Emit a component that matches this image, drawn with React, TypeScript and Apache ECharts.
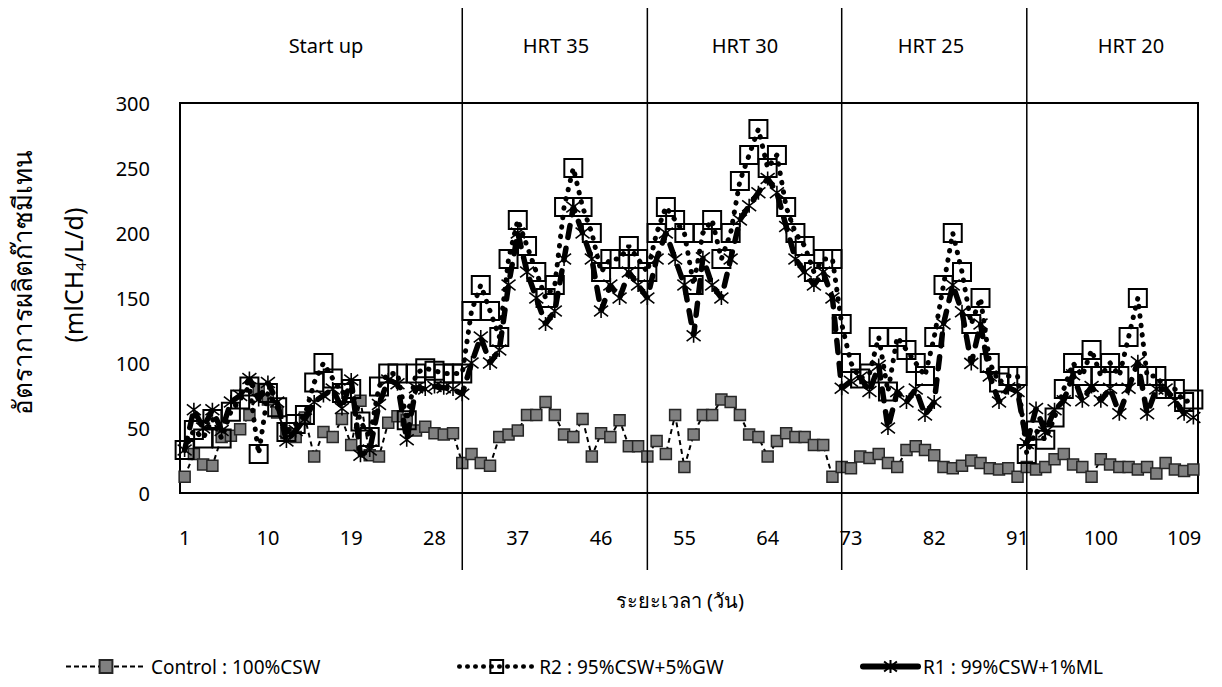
import React, { useEffect, useRef } from "react";
import * as echarts from "echarts";

const FONT = '"Noto Sans", "DejaVu Sans", Lato, sans-serif';

// day labels 1..110
const days: string[] = [];
for (let d = 1; d <= 110; d++) days.push(String(d));

const controlName = "Control : 100%CSW";
const r2Name = "R2 : 95%CSW+5%GW";
const r1Name = "R1 : 99%CSW+1%ML";

const control = [
  12.5, 30, 22, 21, 43, 44, 49, 60, 80, 72,
  62, 46, 43, 58, 28, 47, 43, 57, 37, 71,
  29, 28, 54, 59, 56, 48, 51, 46, 45, 46,
  23, 30, 23, 21, 43, 45, 48, 60, 60, 70,
  60, 45, 43, 57, 28, 46, 43, 56, 36, 36,
  28, 40, 30, 60, 20, 45, 60, 60, 72, 70,
  60, 45, 43, 28, 40, 46, 43, 43, 37, 37,
  12.5, 20, 19, 28, 27, 30, 23, 20, 33, 36,
  33, 29, 20, 19, 21, 25, 23, 19, 18, 19,
  12.5, 20, 18, 20, 26, 30, 22, 20, 12.5, 26,
  22, 20, 20, 18, 20, 15, 23, 18, 17, 18,
];

const r2 = [
  33, 48.5, 42, 57, 42, 62.5, 72, 82, 30, 77,
  66, 47, 53, 60, 85, 100, 88, 77, 80, 55,
  43, 82, 92, 92, 56, 92, 96, 94, 92, 92,
  92, 140, 160, 140, 120, 180, 210, 190, 170, 150,
  160, 220, 250, 220, 200, 170, 180, 180, 190, 180,
  170, 200, 220, 210, 200, 160, 200, 210, 180, 200,
  240, 260, 280, 250, 260, 220, 200, 190, 170, 180,
  180, 130, 100, 88, 92, 120, 78, 120, 110, 100,
  90, 120, 160, 200, 170, 130, 150, 100, 85, 90,
  90, 30, 48, 41, 58, 80, 100, 90, 110, 90,
  100, 90, 120, 150, 90, 90, 80, 80, 70, 72,
];

const r1 = [
  33, 64, 50, 64, 48, 70, 75, 88, 72, 85,
  70, 40, 48, 57, 70, 75, 80, 65, 87, 29,
  33, 68, 87, 84, 41, 81, 80, 82, 81, 80,
  76, 100, 120, 100, 110, 160, 200, 170, 150, 130,
  140, 180, 220, 200, 180, 140, 160, 150, 170, 160,
  150, 180, 200, 180, 160, 121, 181, 160, 150, 180,
  210, 221, 231, 242, 231, 205, 180, 170, 160, 170,
  150, 80.5, 86, 89, 78, 98, 50, 78, 70, 80,
  60, 70, 130, 160, 139.5, 99.7, 130, 90, 70, 81,
  78, 38, 65, 47, 64, 71, 91, 71, 82, 71,
  80.5, 61, 80.5, 101, 61, 80, 80, 71, 61, 58,
];

const yTicks = { min: 0, max: 300, interval: 50 };

// phase separators (category index of the first day of each new phase) and labels
const phaseBoundaries = [30, 50, 71, 91];
const phaseLabels = ["Start up", "HRT 35", "HRT 30", "HRT 25", "HRT 20"];
const phaseLabelX = [326, 556, 745, 931, 1131];

const asterisk = "path://M0,0L10,10M10,0L0,10M5,-1.5L5,11.5";

export default function App() {
  const ref = useRef<HTMLDivElement>(null);
  useEffect(() => {
    if (!ref.current) return;
    const chart = echarts.init(ref.current, undefined, { renderer: "svg" });
    const legendBase = {
      top: 652,
      itemGap: 0,
      itemHeight: 16,
      textStyle: { fontSize: 19, color: "#000", fontFamily: FONT },
    };
    chart.setOption({
      animation: false,
      textStyle: { fontFamily: FONT },
      grid: {
        left: 180,
        top: 103,
        width: 1018,
        height: 390,
        show: true,
        borderColor: "#000",
        borderWidth: 2,
        backgroundColor: "transparent",
      },
      xAxis: {
        type: "category",
        data: days,
        boundaryGap: true,
        axisLine: { show: true, lineStyle: { color: "#000", width: 2 } },
        axisTick: { show: false },
        axisLabel: { interval: 8, margin: 34, fontSize: 20, color: "#000", fontFamily: FONT },
        splitLine: { show: false },
      },
      yAxis: {
        type: "value",
        min: yTicks.min,
        max: yTicks.max,
        interval: yTicks.interval,
        axisLine: { show: true, lineStyle: { color: "#000", width: 2 } },
        axisTick: { show: false },
        axisLabel: { margin: 30, fontSize: 20, color: "#000", fontFamily: FONT },
        splitLine: { show: false },
      },
      legend: [
        { ...legendBase, data: [controlName], left: 60, itemWidth: 80, lineStyle: { type: [5, 3], width: 2 } },
        { ...legendBase, data: [r2Name], left: 452, itemWidth: 75, lineStyle: { type: [0.5, 7.5], width: 4.5, cap: "round" } },
        { ...legendBase, data: [r1Name], left: 855, itemWidth: 55, lineStyle: { type: "solid", width: 6, cap: "round" } },
      ],
      series: [
        {
          name: controlName,
          type: "line",
          data: control,
          showAllSymbol: true,
          symbol: "rect",
          symbolSize: 11,
          itemStyle: { color: "#808080", borderColor: "#262626", borderWidth: 1.5 },
          lineStyle: { color: "#000", width: 2, type: [5, 4] },
          z: 2,
        },
        {
          name: r2Name,
          type: "line",
          data: r2,
          showAllSymbol: true,
          symbol: "rect",
          symbolSize: 18,
          itemStyle: { color: "rgba(255,255,255,0)", borderColor: "#000", borderWidth: 2 },
          lineStyle: { color: "#000", width: 5, type: [0.5, 9], cap: "round" },
          z: 3,
        },
        {
          name: r1Name,
          type: "line",
          data: r1,
          showAllSymbol: true,
          symbol: asterisk,
          symbolSize: 14,
          itemStyle: { color: "rgba(0,0,0,0)", borderColor: "#000", borderWidth: 1.6 },
          lineStyle: { color: "#000", width: 5.5, type: [12, 11], cap: "round" },
          z: 4,
        },
      ],
    });

    const sepX = phaseBoundaries.map((i) => chart.convertToPixel({ xAxisIndex: 0 }, i) as number);
    const graphics: any[] = [];
    sepX.forEach((x) => {
      graphics.push({
        type: "line",
        shape: { x1: x, y1: 8, x2: x, y2: 570 },
        style: { stroke: "#000", lineWidth: 1.5 },
        z: 10,
      });
    });
    phaseLabels.forEach((t, k) => {
      graphics.push({
        type: "text",
        x: phaseLabelX[k],
        y: 45,
        style: { text: t, fontSize: 20, fontFamily: FONT, fill: "#000", align: "center", verticalAlign: "middle" },
      });
    });
    graphics.push({
      type: "text",
      x: 22,
      y: 282,
      rotation: Math.PI / 2,
      style: {
        text: "อัตราการผลิตก๊าซมีเทน",
        fontSize: 26,
        fontFamily: FONT,
        fill: "#000",
        align: "center",
        verticalAlign: "middle",
      },
    });
    graphics.push({
      type: "text",
      x: 73,
      y: 275,
      rotation: Math.PI / 2,
      style: {
        text: "(mlCH{sub|4}/L/d)",
        fontSize: 25,
        fontFamily: FONT,
        fill: "#000",
        align: "center",
        verticalAlign: "middle",
        rich: { sub: { fontSize: 15, fontFamily: FONT, fill: "#000", padding: [14, 0, 0, 0] } },
      },
    });
    graphics.push({
      type: "text",
      x: 680,
      y: 600,
      style: {
        text: "ระยะเวลา (วัน)",
        fontSize: 20,
        fontFamily: FONT,
        fill: "#000",
        align: "center",
        verticalAlign: "middle",
      },
    });
    chart.setOption({ graphic: graphics });

    return () => chart.dispose();
  }, []);
  return (
    <div
      ref={ref}
      style={{ position: "fixed", left: 0, top: 0, width: 1222, height: 687, background: "#fff" }}
    />
  );
}
